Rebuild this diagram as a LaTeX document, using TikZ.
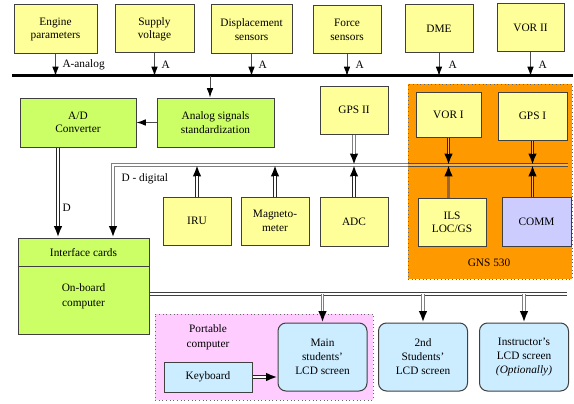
\documentclass[tikz,border=0pt]{standalone}
\usepackage{fontspec}
\setmainfont{Liberation Serif}
\usetikzlibrary{arrows.meta}

\definecolor{boxyellow}{RGB}{255,255,153}
\definecolor{boxgreen}{RGB}{204,255,102}
\definecolor{gnsorange}{RGB}{255,153,0}
\definecolor{portpink}{RGB}{255,204,255}
\definecolor{lcdblue}{RGB}{204,236,255}
\definecolor{commlilac}{RGB}{204,204,255}
\definecolor{ilsbrown}{RGB}{153,102,51}

\tikzset{every picture/.style={line width=0.75pt}}
\tikzset{
  blk/.style={draw=black!75, inner sep=0pt, align=center, font=\fontsize{8.5}{10}\selectfont},
  ybox/.style={blk, fill=boxyellow, minimum width=51pt, minimum height=36pt},
  gbox/.style={blk, fill=boxgreen, minimum width=87pt, minimum height=36.75pt},
  lcd/.style={blk, fill=lcdblue, rounded corners=6pt, minimum width=66.75pt, minimum height=51pt, font=\fontsize{8.5}{10.5}\selectfont},
  lbl/.style={inner sep=0.75pt, font=\fontsize{8.5}{10}\selectfont},
  area/.style={draw=black!60, dotted, inner sep=0pt},
  tip/.style={-{Latex[length=7pt,width=5pt,color=black]}},
  btip/.style={-{Latex[length=8.5pt,width=6.5pt,color=black]}},
  core/.style={postaction={draw=#1, line width=1.2pt, shorten >=8.5pt, -}},
  sarr/.style={tip, draw=black!70},
  darr/.style={btip, draw=black!85, line width=2.4pt, core=white},
  garr/.style={btip, draw=gray, line width=2.6pt, core=white},
  ilsarr/.style={btip, draw=ilsbrown, line width=2.25pt},
  dbus/.style={draw=gray, line width=0.6pt, double, double distance=1.2pt},
}

\begin{document}
\begin{tikzpicture}[x=0.75pt,y=0.75pt,yscale=-1,xscale=1]
\path[fill=white] (0,0) rectangle (574,403);
\useasboundingbox (0,0) rectangle (574,403);

%Shape: GNS 530 area
\node[area, fill=gnsorange, minimum width=123pt, minimum height=146.25pt] (gns) at (490,181.5) {};
\node[lbl] (gnst) at (489,263) {GNS 530};
%Shape: Portable computer area
\node[area, fill=portpink, minimum width=163.5pt, minimum height=64.5pt] (port) at (264,357) {};
\node[lbl, align=center, font=\fontsize{8.5}{11}\selectfont] (portt) at (208,337) {Portable\\computer};

%Sources on the analog bus
\node[ybox, minimum width=62.25pt, minimum height=36.75pt] (eng) at (55.5,29.5) {Engine\\parameters};
\node[ybox, minimum width=59.25pt] (sup) at (154.5,29) {Supply\\voltage};
\node[ybox, minimum width=60.75pt, minimum height=36.75pt] (disp) at (251.5,29.5) {Displacement\\sensors};
\node[ybox] (force) at (347,30) {Force\\sensors};
\node[ybox] (dme) at (439,29) {DME};
\node[ybox, minimum width=50.25pt] (vor2) at (530.5,28) {VOR II};

%Straight Lines: analog bus
\coordinate (abusW) at (12,76);
\coordinate (abusE) at (573,76);
\draw[line width=2.25pt] (abusW) -- (abusE);

\draw[sarr] (eng.south) -- (eng.south |- abusW);
\draw[sarr] (sup.south) -- (sup.south |- abusW);
\draw[sarr] (disp.south) -- (disp.south |- abusW);
\draw[sarr] (force.south) -- (force.south |- abusW);
\draw[sarr] (dme.south) -- (dme.south |- abusW);
\draw[sarr] (vor2.south) -- (vor2.south |- abusW);

% Text Node
\node[lbl, anchor=west] (la1) at (61,65) {A-analog};
\node[lbl, anchor=west] (la2) at (160,65) {A};
\node[lbl, anchor=west] (la3) at (257,65) {A};
\node[lbl, anchor=west] (la4) at (354,65) {A};
\node[lbl, anchor=west] (la5) at (447,65) {A};
\node[lbl, anchor=west] (la6) at (537,65) {A};

%A/D chain
\node[gbox, minimum width=87.75pt] (asig) at (215.5,122.5) {Analog signals\\standardization};
\node[gbox] (ad) at (78,122.5) {A/D\\Converter};
\coordinate (acol) at (210,0);
\draw[sarr] (acol |- abusW) -- (asig.north -| acol);
\draw[sarr] (asig.west) -- (ad.east);

%On-board computer
\node[blk, fill=boxgreen, minimum width=98.25pt, minimum height=72pt] (obc) at (83.5,286) {};
\draw[black!75] (obc.north west) ++(0,29) -- ++(131,0);
\node[lbl] (intf) at (83.5,253) {Interface cards};
\node[lbl, align=center, font=\fontsize{8.5}{11}\selectfont] (onb) at (83.5,296) {On-board\\computer};

\coordinate (dcol) at (58,0);
\draw[darr] (ad.south -| dcol) -- (obc.north -| dcol);
\node[lbl, anchor=west] (ld) at (61,208) {D};

%Digital bus
\coordinate (dbusW) at (113,165);
\coordinate (dbusE) at (568,165);
\draw[garr, line width=2.4pt] (dbusE) -- (dbusW) -- (dbusW |- obc.north);
\draw[dbus, double=gnsorange!75!white, draw=black!70] (gns.west |- dbusE) -- (dbusE);
\node[lbl, anchor=west] (ldig) at (120,179) {D - digital};

%Units on the digital bus
\node[ybox] (gps2) at (354,110) {GPS II};
\node[ybox] (iru) at (197,221) {IRU};
\node[ybox] (mag) at (275,221) {Magneto-\\meter};
\node[ybox, minimum height=36.75pt] (adc) at (354,221.5) {ADC};
\node[ybox, minimum width=48.75pt, minimum height=33.75pt] (vor1) at (448.5,114.5) {VOR I};
\node[ybox, minimum width=51.75pt] (gps1) at (532.5,116) {GPS I};
\node[ybox] (ils) at (452,222) {ILS\\LOC/GS};
\node[blk, fill=commlilac, minimum width=51.75pt, minimum height=36.75pt] (comm) at (536.5,221.5) {COMM};

\draw[garr] (gps2.south) -- (gps2.south |- dbusE);
\draw[darr] (iru.north) -- (iru.north |- dbusE);
\draw[darr] (mag.north) -- (mag.north |- dbusE);
\draw[darr] (adc.north) -- (adc.north |- dbusE);
\draw[darr, core=gnsorange!75!white] (vor1.south) -- (vor1.south |- dbusE);
\draw[darr, core=gnsorange!75!white] (gps1.south) -- (gps1.south |- dbusE);
\draw[ilsarr] (ils.north -| vor1.south) -- (vor1.south |- dbusE);
\draw[darr, core=gnsorange!75!white] (comm.north -| gps1.south) -- (gps1.south |- dbusE);

%Displays
\node[blk, fill=lcdblue, minimum width=66pt, minimum height=22.5pt] (kbd) at (208,377) {Keyboard};
\node[lcd] (main) at (322.5,357) {Main\\students'\\LCD screen};
\node[lcd] (snd) at (423,357) {2nd\\Students'\\LCD screen};
\node[lcd] (inst) at (524,357) {Instructor's\\LCD screen\\\textit{(Optionally)}};

\coordinate (obusE) at (567,294);
\draw[draw=black!75, line width=0.6pt, double=white, double distance=1.2pt] (obc.east |- obusE) -- (obusE);
\draw[garr] (main.north |- obusE) -- (main.north);
\draw[garr] (snd.north |- obusE) -- (snd.north);
\draw[garr] (inst.north |- obusE) -- (inst.north);
\draw[darr] (kbd.east) -- (main.west |- kbd.east);

\end{tikzpicture}
\end{document}
